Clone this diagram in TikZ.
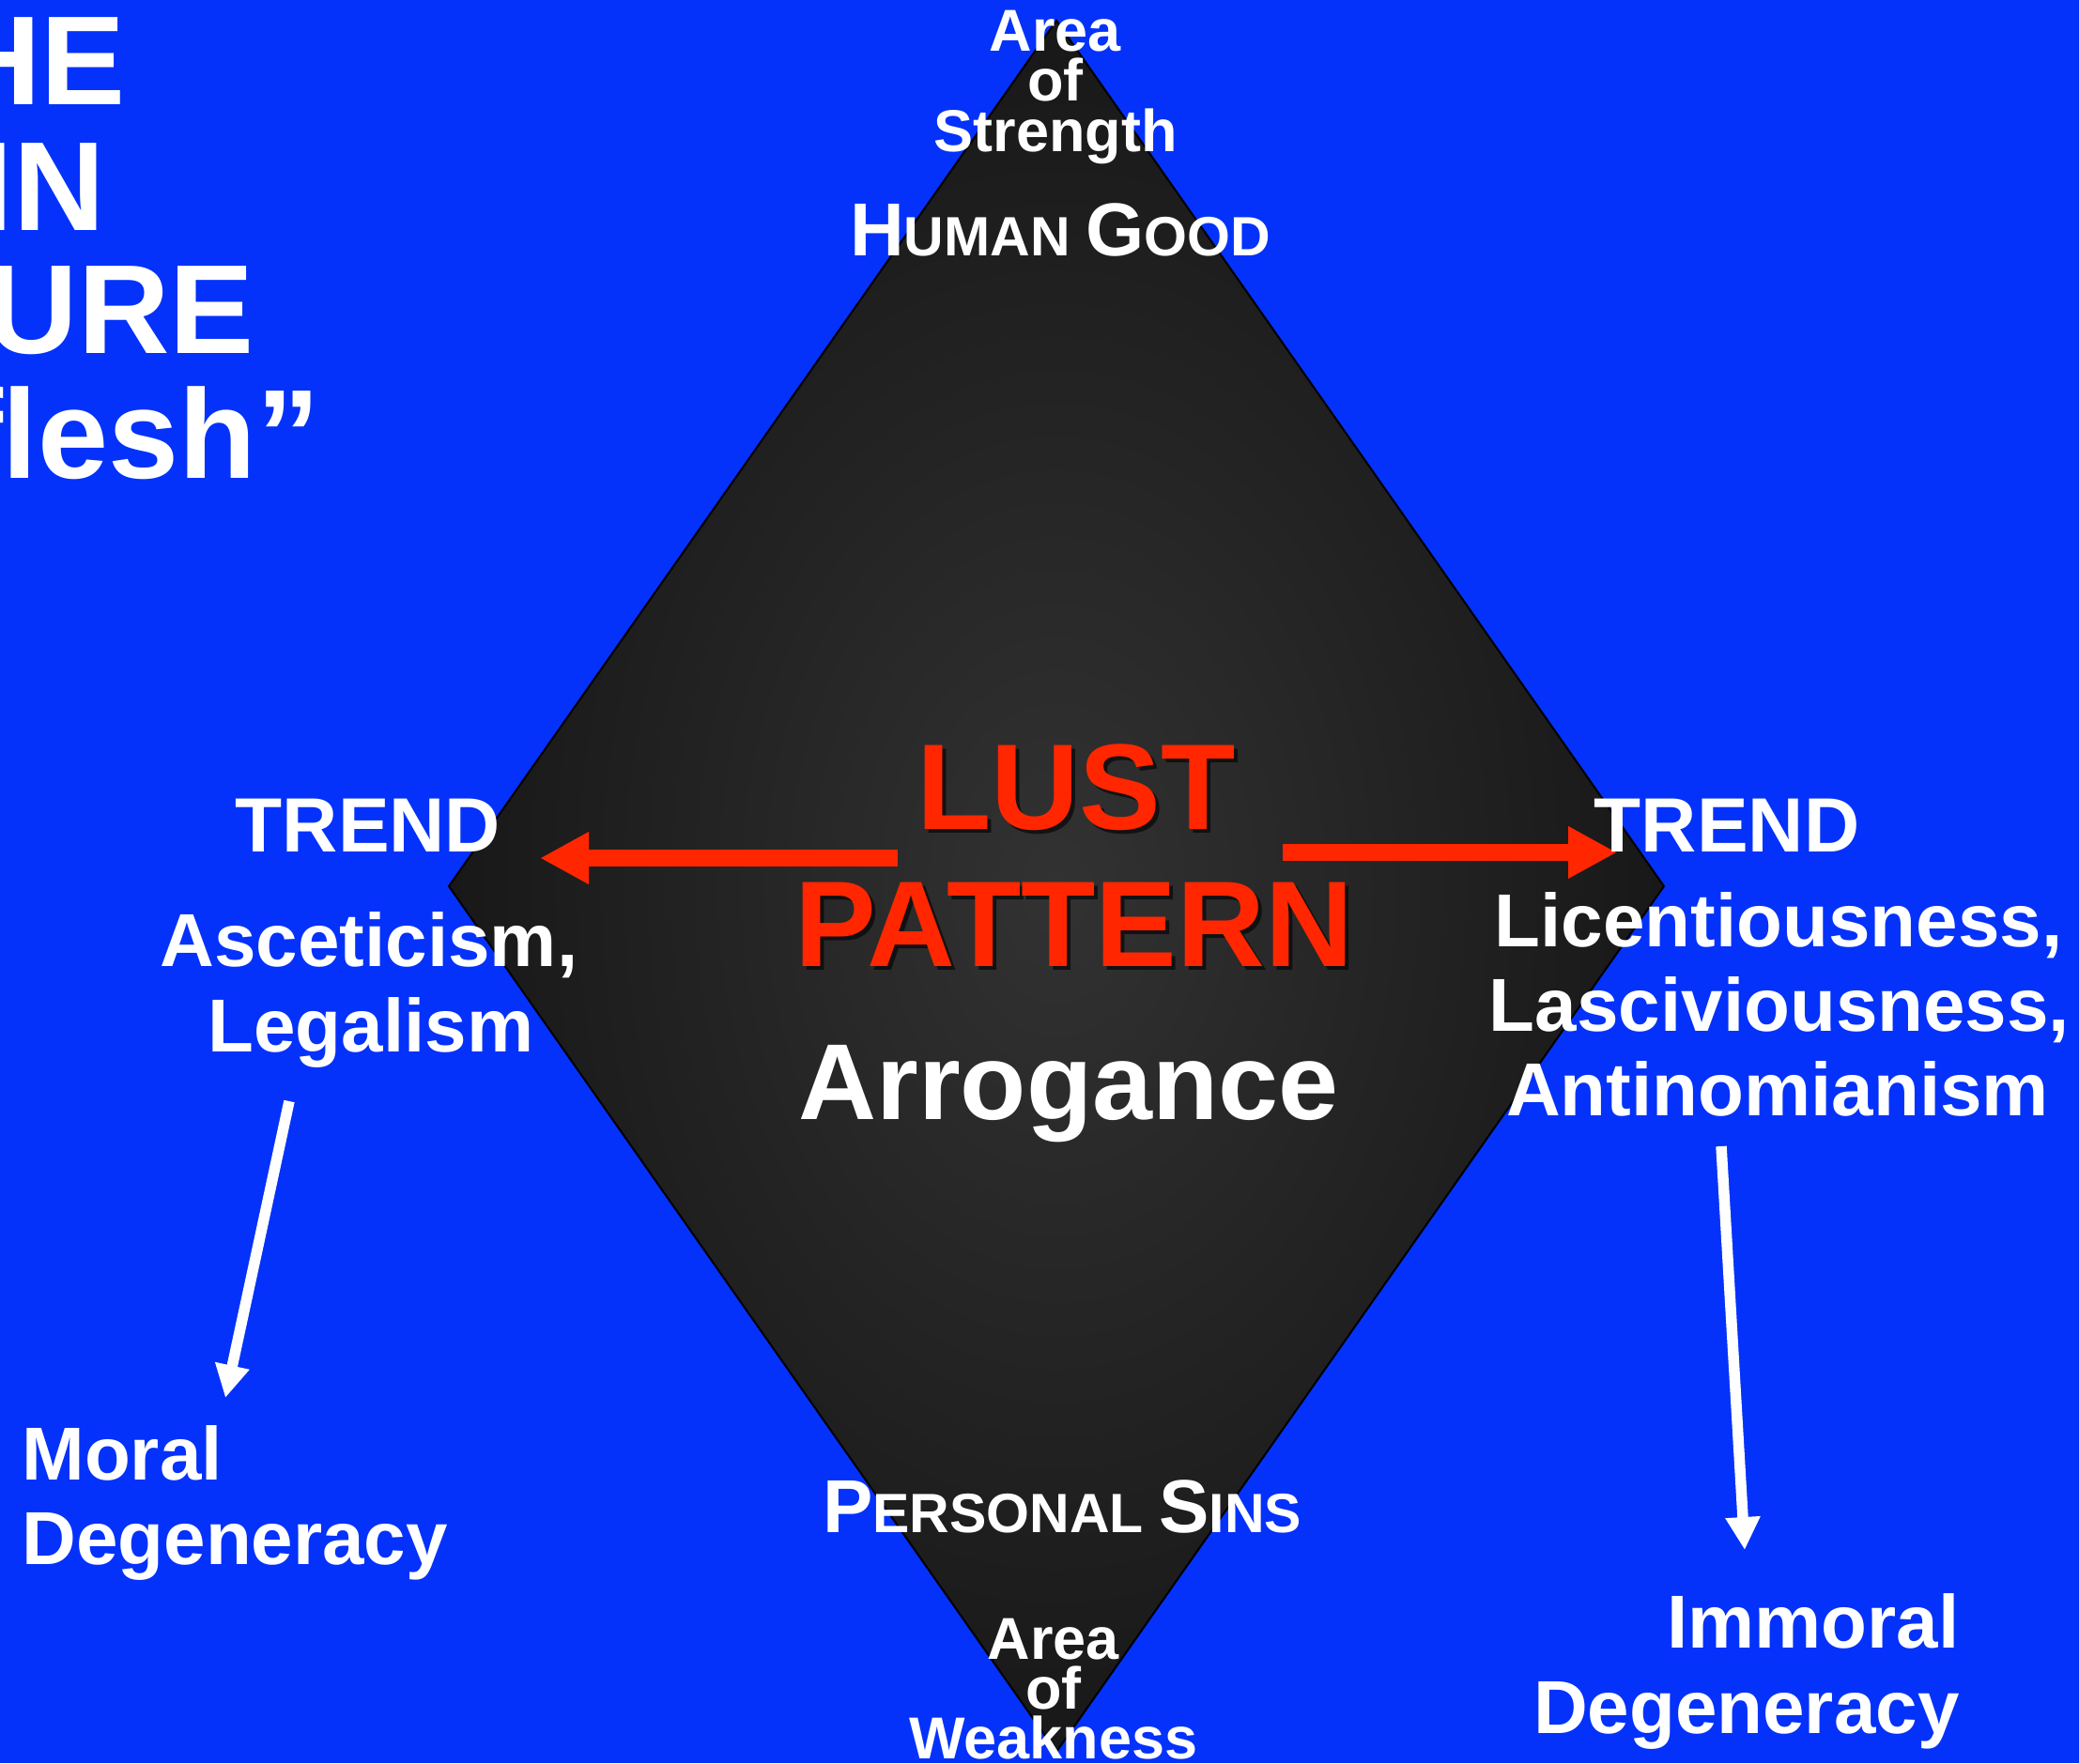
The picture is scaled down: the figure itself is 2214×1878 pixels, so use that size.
\documentclass[tikz,border=0pt]{standalone}
\usepackage{fontspec}
\setmainfont{Liberation Sans}
\usetikzlibrary{arrows.meta, positioning, shapes.geometric}
\definecolor{slideblue}{RGB}{4,50,250}
\definecolor{lustred}{RGB}{255,38,0}
\definecolor{coreinner}{RGB}{50,50,50}
\definecolor{coreouter}{RGB}{24,24,24}
\newcommand{\smcap}[1]{{\fontsize{29.5}{30}\selectfont #1}}
\tikzset{
  slide/.style={text=white,inner sep=0pt,anchor=base},
  titleline/.style={slide,anchor=base east,font=\fontsize{67.5}{68}\selectfont\bfseries},
  apex/.style={slide,font=\fontsize{31.5}{27}\selectfont\bfseries},
  zone/.style={slide,font=\fontsize{40}{40}\selectfont\bfseries},
  lust/.style={inner sep=0pt,anchor=base,text=lustred,font=\fontsize{65}{70}\selectfont\bfseries},
  lustshade/.style={lust,text=black,opacity=.6},
  pride/.style={slide,font=\fontsize{57.5}{60}\selectfont\bfseries},
  trend/.style={slide,font=\fontsize{41}{45}\selectfont\bfseries},
  side/.style={slide,font=\fontsize{40}{45}\selectfont\bfseries},
  pull/.style={draw=lustred,line width=9pt,-{Triangle[length=26pt,width=26pt]}},
  fall/.style={draw=white,line width=5.75pt,-{Triangle[length=17.5pt,width=17.5pt]}},
}
\begin{document}
\begin{tikzpicture}[x=0.5pt,y=-0.5pt]
	    \useasboundingbox (0,0) rectangle (2214,1878);
	    \clip (0,0) rectangle (2214,1878);
	    \fill[slideblue] (0,0) rectangle (2214,1878);
	    % the diamond
	    \coordinate (top) at (1125,22);
	    \coordinate (right) at (1772,944);
	    \coordinate (bot) at (1125,1866);
	    \coordinate (left) at (478,944);
	    \shade[inner color=coreinner,outer color=coreouter] (top) -- (right) -- (bot) -- (left) -- cycle;
	    \draw[black,line width=1pt] (top) -- (right) -- (bot) -- (left) -- cycle;
	    % title, cut at the left edge
	    \node[titleline] (tHE) at (134,112) {THE};
	    \node[titleline] (tSIN) at (112,245) {SIN};
	    \node[titleline] (tNAT) at (271,376) {NATURE};
	    \node[titleline] (tFL) at (341,509) {“flesh”};
	    % top and bottom
	    \node[apex] (strA) at (1124,55) {Area};
	    \node[apex] (strB) at (1124,108) {of};
	    \node[apex] (strC) at (1124,162) {Strength};
	    \node[zone] (good) at (1129,272) {H\smcap{UMAN }G\smcap{OOD}};
	    \node[zone] (sins) at (1131,1632) {P\smcap{ERSONAL }S\smcap{INS}};
	    \node[apex] (wkA) at (1122,1767) {Area};
	    \node[apex] (wkB) at (1122,1820) {of};
	    \node[apex] (wkC) at (1122,1873) {Weakness};
	    % centre
	    \node[lustshade] (lustS) at (1150,887) {LUST};
	    \node[lustshade] (pattS) at (1148,1033) {PATTERN};
	    \node[lust] (lust) at (1146,883) {LUST};
	    \node[lust] (patt) at (1144,1029) {PATTERN};
	    \node[pride] (arro) at (1138,1192) {Arrogance};
	    % trends
	    \coordinate (lustL) at (956,914);
	    \coordinate (trendL) at (575,914);
	    \coordinate (lustR) at (1366,908);
	    \coordinate (trendR) at (1722,908);
	    \draw[pull] (lustL) -- (trendL);
	    \draw[pull] (lustR) -- (trendR);
	    \node[trend] (trendLt) at (392,907) {TREND};
	    \node[side] (asc) at (393,1029) {Asceticism,};
	    \node[side] (leg) at (395,1120) {Legalism};
	    \node[trend] (trendRt) at (1839,907) {TREND};
	    \node[side] (lic) at (1894,1008) {Licentiousness,};
	    \node[side] (lasc) at (1895,1098) {Lasciviousness,};
	    \node[side] (anti) at (1893,1188) {Antinomianism};
	    % degeneracy
	    \node[side,anchor=base west] (moral) at (23,1576) {Moral};
	    \node[side,anchor=base west] (degL) at (23,1666) {Degeneracy};
	    \node[side,anchor=base east] (immoral) at (2087,1755) {Immoral};
	    \node[side,anchor=base east] (degR) at (2087,1846) {Degeneracy};
	    \coordinate (legEnd) at (308,1173);
	    \coordinate (moralTop) at (240,1489);
	    \coordinate (antiEnd) at (1833,1221);
	    \coordinate (immTop) at (1858,1651);
	    \draw[fall] (legEnd) -- (moralTop);
	    \draw[fall] (antiEnd) -- (immTop);
	\end{tikzpicture}
\end{document}
